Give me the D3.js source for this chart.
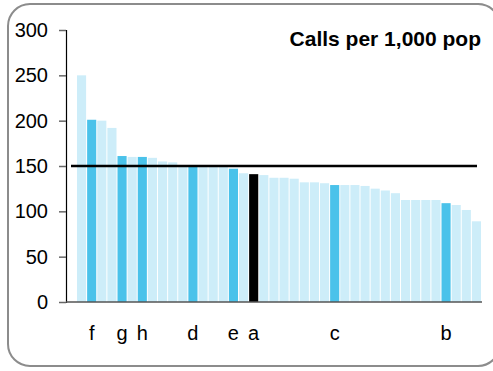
<!DOCTYPE html>
<html>
<head>
<meta charset="utf-8">
<script src="https://cdn.jsdelivr.net/npm/d3@7"></script>
<style>
  body { margin: 0; background: #fff; }
  text { font-family: "Liberation Sans", Arial, sans-serif; }
</style>
</head>
<body>
<svg id="chart" width="493" height="371"></svg>
<script>
// one value per area, sorted high to low
var values = [250, 201, 200, 192, 161, 160, 160, 159, 155, 154,
              151, 150, 150, 150, 150, 147, 142, 141, 140, 137,
              137, 136, 132, 132, 131, 129, 129, 129, 128, 125,
              123, 120, 112.5, 112.5, 112.5, 112.5, 109, 107, 101.5, 89];
// highlighted bars: index -> letter
var highlightIdx = [1, 4, 6, 11, 15, 17, 25, 36];
var highlightLbl = ["f", "g", "h", "d", "e", "a", "c", "b"];
var markIdx = 17; // "a" in black
var average = 150;
var yTicks = [0, 50, 100, 150, 200, 250, 300];
var title = "Calls per 1,000 pop";

var svg = d3.select("#chart");

// panel frame
svg.append("rect")
  .attr("x", 8).attr("y", 4)
  .attr("width", 492).attr("height", 362)
  .attr("rx", 22).attr("ry", 22)
  .attr("fill", "#fff")
  .attr("stroke", "#8c8c8c")
  .attr("stroke-width", 2);

var x = d3.scaleBand()
  .domain(d3.range(values.length))
  .range([77, 481])
  .paddingInner(0.1)
  .paddingOuter(0);

var y = d3.scaleLinear().domain([0, 300]).range([302, 30]);

// bars
svg.append("g").selectAll("rect")
  .data(values)
  .enter().append("rect")
  .attr("x", (d, i) => x(i))
  .attr("y", d => y(d))
  .attr("width", x.bandwidth())
  .attr("height", d => y(0) - y(d))
  .attr("fill", function(d, i) {
    if (i == markIdx) return "#000";
    if (highlightIdx.indexOf(i) >= 0) return "#4ac2ea";
    return "#cdedf9";
  });

// y axis
var yAxis = svg.append("g")
  .attr("transform", "translate(66,0)")
  .call(d3.axisLeft(y).tickValues(yTicks).tickSize(7).tickPadding(11));
yAxis.select(".domain").attr("stroke", "#000").attr("stroke-width", 1.2);
yAxis.selectAll(".tick line").attr("stroke", "#666").attr("stroke-width", 1.5);
yAxis.selectAll(".tick text")
  .attr("font-size", 20)
  .attr("fill", "#000")
  .style("font-family", "'Liberation Sans', Arial, sans-serif");

// x baseline
svg.append("line")
  .attr("x1", 66).attr("x2", 482)
  .attr("y1", y(0)).attr("y2", y(0))
  .attr("stroke", "#555").attr("stroke-width", 1.5);

// average line
svg.append("line")
  .attr("x1", 71).attr("x2", 477)
  .attr("y1", y(average)).attr("y2", y(average))
  .attr("stroke", "#000").attr("stroke-width", 2.5);

// category letters
svg.append("g").selectAll("text")
  .data(highlightIdx)
  .enter().append("text")
  .attr("x", (d, i) => x(d) + x.bandwidth() / 2)
  .attr("y", 340)
  .attr("text-anchor", "middle")
  .attr("font-size", 20)
  .text((d, i) => highlightLbl[i]);

// title
svg.append("text")
  .attr("x", 481).attr("y", 46)
  .attr("text-anchor", "end")
  .attr("font-size", 21)
  .attr("font-weight", "bold")
  .text(title);
</script>
</body>
</html>
